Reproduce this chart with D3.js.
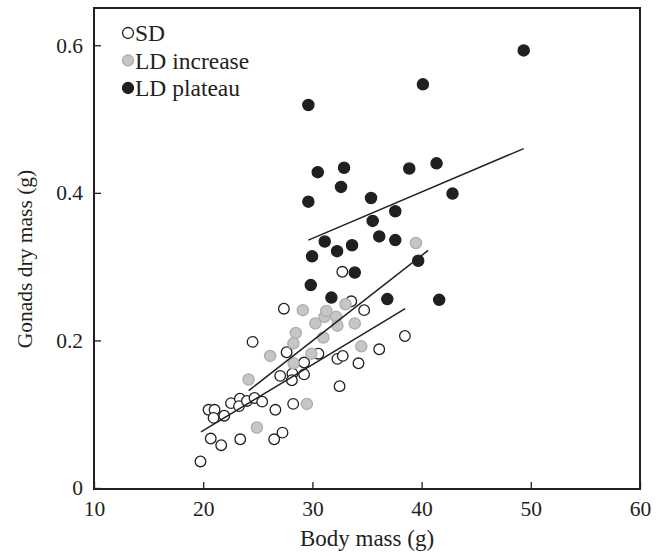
<!DOCTYPE html>
<html>
<head>
<meta charset="utf-8">
<script src="https://cdn.jsdelivr.net/npm/d3@7"></script>
<style>
  body { margin: 0; background: #fff; }
  svg text { font-family: "Liberation Serif", "Times New Roman", serif; fill: #231f20; }
</style>
</head>
<body>
<div class="chart"></div>
<script>
// body mass (g) / gonads dry mass (g)
const sdMass = [19.75, 20.69, 21.65, 23.39, 26.5, 27.26, 20.49, 21.04, 20.95, 21.93, 22.55, 23.36,
  23.28, 24.0, 24.7, 25.4, 26.61, 28.24, 24.52, 27.39, 27.64, 27.05, 28.17, 28.12, 29.24, 29.24,
  30.55, 32.29, 32.78, 32.49, 34.22, 36.12, 38.47, 34.74, 32.74, 33.56];
const sdGonad = [0.036, 0.067, 0.058, 0.066, 0.066, 0.075, 0.106, 0.106, 0.095, 0.098, 0.115, 0.121,
  0.111, 0.118, 0.122, 0.117, 0.106, 0.114, 0.198, 0.243, 0.184, 0.152, 0.155, 0.146, 0.170, 0.154,
  0.182, 0.175, 0.179, 0.138, 0.169, 0.188, 0.206, 0.241, 0.293, 0.253];

const incMass = [29.12, 28.48, 28.26, 26.13, 24.15, 28.28, 29.9, 30.27, 31.0, 31.11, 31.27, 32.17,
  32.29, 33.03, 33.88, 34.48, 29.49, 24.92, 39.48];
const incGonad = [0.241, 0.210, 0.196, 0.179, 0.147, 0.169, 0.182, 0.223, 0.204, 0.232, 0.240, 0.232,
  0.220, 0.249, 0.223, 0.192, 0.114, 0.082, 0.332];

const platMass = [29.63, 30.49, 32.9, 32.62, 29.63, 35.37, 38.87, 41.37, 42.83, 37.59, 35.52, 31.13,
  32.26, 33.63, 36.12, 37.59, 29.97, 39.69, 33.88, 29.85, 31.74, 36.86, 41.61, 49.35, 40.12];
const platGonad = [0.519, 0.428, 0.434, 0.408, 0.388, 0.393, 0.433, 0.440, 0.399, 0.375, 0.362, 0.334,
  0.321, 0.329, 0.341, 0.336, 0.314, 0.308, 0.292, 0.275, 0.258, 0.256, 0.255, 0.593, 0.547];

// fitted lines, end points [mass, gonad]
const sdFit = [[19.8, 0.076], [38.5, 0.243]];
const incFit = [[24.17, 0.132], [40.6, 0.322]];
const platFit = [[29.63, 0.336], [49.35, 0.460]];

const xTicks = [10, 20, 30, 40, 50, 60];
const yTicks = [0, 0.2, 0.4, 0.6];
const legendLabels = ['SD', 'LD increase', 'LD plateau'];

const ink = '#231f20';
const styles = [
  {fill: '#fff', stroke: ink, r: 5.3},
  {fill: '#c6c6c6', stroke: '#adadad', r: 5.6},
  {fill: ink, stroke: ink, r: 5.6}
];

const margin = {top: 8, right: 25, bottom: 67, left: 94};
const width = 665 - margin.left - margin.right;
const height = 556 - margin.top - margin.bottom;

const svg = d3.select('.chart')
  .append('svg')
  .attr('width', 665)
  .attr('height', 556);

const g = svg.append('g')
  .attr('transform', `translate(${margin.left}, ${margin.top})`);

const x = d3.scaleLinear().domain([10, 60]).range([0, width]);
const y = d3.scaleLinear().domain([0, 0.6505]).range([height - 1, 0]);

// axes with inward ticks
const xAxis = g.append('g')
  .attr('transform', `translate(0, ${height})`)
  .call(d3.axisBottom(x).tickValues(xTicks).tickSize(-7).tickSizeOuter(0).tickPadding(12));
const yAxis = g.append('g')
  .call(d3.axisLeft(y).tickValues(yTicks).tickSize(-7).tickSizeOuter(0).tickPadding(11)
    .tickFormat(d => d === 0 ? '0' : d.toFixed(1)));

[xAxis, yAxis].forEach(ax => {
  ax.select('.domain').remove();
  ax.selectAll('line').attr('stroke', ink).attr('stroke-width', 1.3);
  ax.selectAll('text').style('font-size', '21.5px').attr('fill', ink);
});
xAxis.selectAll('text').attr('dy', '0.71em');

// frame
g.append('rect')
  .attr('x', 0).attr('y', 0)
  .attr('width', width).attr('height', height)
  .attr('fill', 'none')
  .attr('stroke', ink)
  .attr('stroke-width', 2);

// points
const groups = [
  d3.zip(sdMass, sdGonad),
  d3.zip(incMass, incGonad),
  d3.zip(platMass, platGonad)
];

groups.forEach((pts, i) => {
  g.append('g').selectAll('circle')
    .data(pts)
    .join('circle')
    .attr('cx', d => x(d[0]))
    .attr('cy', d => y(d[1]))
    .attr('r', styles[i].r)
    .attr('fill', styles[i].fill)
    .attr('stroke', styles[i].stroke)
    .attr('stroke-width', 1.3);
});

// fit lines
const line = d3.line().x(d => x(d[0])).y(d => y(d[1]));
[sdFit, incFit, platFit].forEach(f => {
  g.append('path')
    .attr('d', line(f))
    .attr('fill', 'none')
    .attr('stroke', ink)
    .attr('stroke-width', 1.5);
});

// legend
const legend = g.append('g').attr('transform', 'translate(34, 25)');
legendLabels.forEach((label, i) => {
  const row = legend.append('g').attr('transform', `translate(0, ${i * 27.5})`);
  row.append('circle')
    .attr('r', 5.5)
    .attr('fill', styles[i].fill)
    .attr('stroke', styles[i].stroke)
    .attr('stroke-width', 1.3);
  row.append('text')
    .attr('x', 7)
    .attr('y', 8)
    .style('font-size', '23.5px')
    .text(label);
});

// axis titles
svg.append('text')
  .attr('x', 367)
  .attr('y', 546)
  .attr('text-anchor', 'middle')
  .style('font-size', '23px')
  .text('Body mass (g)');

svg.append('text')
  .attr('transform', 'translate(32, 259) rotate(-90)')
  .attr('text-anchor', 'middle')
  .style('font-size', '21.5px')
  .text('Gonads dry mass (g)');
</script>
</body>
</html>
